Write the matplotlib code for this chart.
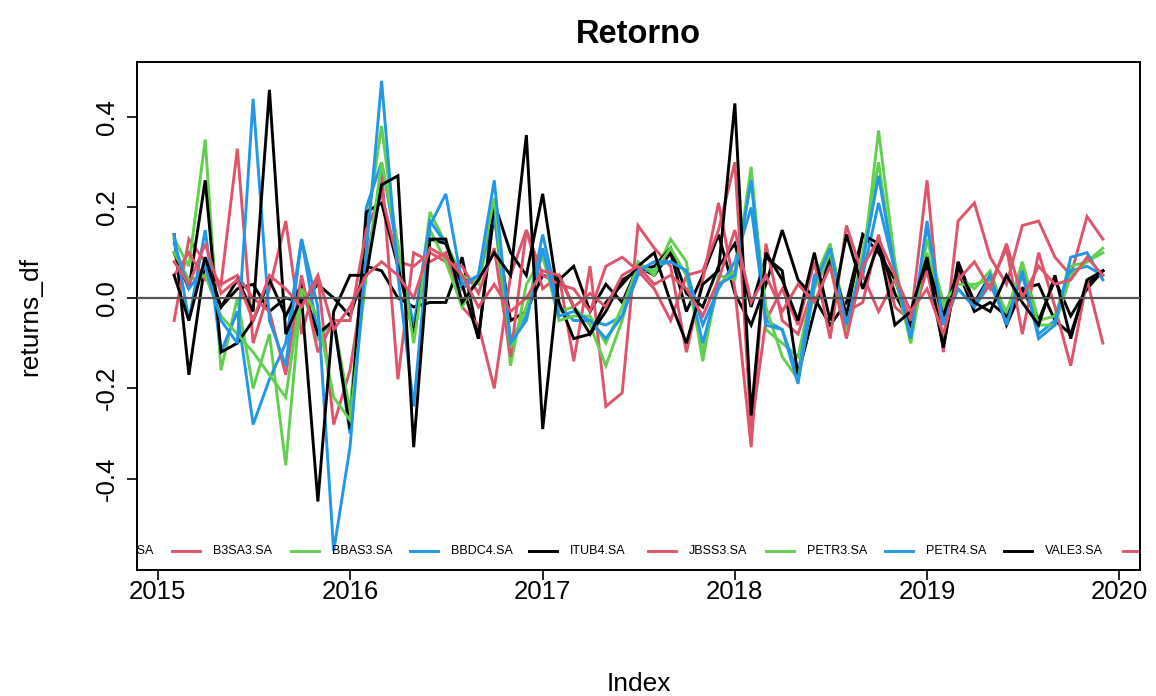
import numpy as np
import pandas as pd
import matplotlib
matplotlib.use("Agg")
import matplotlib.pyplot as plt
import matplotlib.dates as mdates

plt.rcParams['font.family'] = ['Liberation Sans', 'DejaVu Sans']

dates = pd.date_range("2015-02-01", periods=59, freq="MS")

tickers = ["ABEV3.SA", "B3SA3.SA", "BBAS3.SA", "BBDC4.SA", "ITUB4.SA",
           "JBSS3.SA", "PETR3.SA", "PETR4.SA", "VALE3.SA", "WEGE3.SA"]
colors = ["#000000", "#DF536B", "#61D04F", "#2297E6"]

abev3 = [0.14, -0.17, 0.08, -0.02, 0.02, 0.03, -0.03, 0.00, -0.01, 0.03,
         0.00, -0.04, 0.07, 0.06, 0.00, -0.02, -0.01, -0.01, 0.09, -0.09,
         0.19, -0.05, -0.03, 0.05, 0.04, 0.07, -0.03, 0.03, -0.01, 0.07,
         0.05, 0.10, -0.03, 0.05, 0.14, 0.01, -0.06, 0.03, 0.15, 0.04,
         0.00, -0.06, -0.01, 0.14, 0.10, 0.04, -0.06, 0.07, -0.11, 0.08,
         -0.01, 0.05, -0.06, 0.02, 0.03, -0.05, -0.08, 0.03, 0.06]
b3sa3 = [-0.05, 0.13, 0.08, 0.03, 0.33, -0.10, 0.02, 0.17, -0.08, 0.05,
         -0.28, -0.16, 0.07, 0.28, -0.18, 0.10, 0.08, 0.10, -0.02, -0.06,
         -0.20, 0.05, 0.15, 0.02, 0.05, -0.14, 0.07, -0.24, -0.21, 0.16,
         0.11, 0.07, -0.12, 0.04, 0.21, 0.02, -0.33, 0.12, -0.05, -0.08,
         0.03, 0.08, -0.03, -0.01, 0.14, -0.02, -0.05, 0.26, -0.12, 0.17,
         0.21, 0.09, 0.03, 0.16, 0.17, 0.09, 0.05, 0.18, 0.13]
bbas3 = [0.13, 0.07, 0.35, -0.16, 0.00, -0.20, -0.08, -0.37, 0.02, -0.09,
         -0.05, -0.25, 0.15, 0.38, 0.10, -0.09, 0.19, 0.12, 0.05, 0.03,
         0.19, -0.15, 0.03, 0.09, -0.03, -0.02, -0.06, -0.15, -0.05, 0.08,
         0.05, 0.13, 0.08, -0.14, 0.05, 0.04, 0.29, -0.07, -0.10, -0.13,
         0.04, 0.12, -0.05, 0.07, 0.37, 0.08, -0.10, 0.10, -0.02, 0.05,
         0.02, 0.06, -0.04, 0.08, -0.05, -0.04, 0.07, 0.08, 0.11]
bbdc4 = [0.14, -0.05, 0.15, -0.12, -0.03, -0.28, -0.18, -0.10, 0.13, -0.08,
         -0.05, -0.30, 0.20, 0.30, 0.10, -0.06, 0.17, 0.12, 0.02, 0.05,
         0.18, -0.09, -0.04, 0.14, -0.02, -0.05, -0.05, -0.06, -0.04, 0.05,
         0.07, 0.08, 0.06, -0.06, 0.02, 0.08, 0.20, -0.05, -0.07, -0.17,
         0.05, 0.07, -0.04, 0.05, 0.21, 0.06, -0.09, 0.16, -0.05, 0.02,
         -0.02, 0.03, -0.05, 0.05, -0.08, -0.05, 0.06, 0.07, 0.05]
itub4 = [0.10, 0.02, 0.26, -0.12, -0.10, -0.05, 0.04, -0.04, 0.03, -0.08,
         -0.05, -0.29, 0.19, 0.21, 0.07, -0.08, 0.13, 0.12, 0.03, -0.09,
         0.21, 0.10, 0.05, 0.23, -0.01, -0.09, -0.08, -0.03, 0.04, 0.06,
         0.07, 0.11, 0.01, -0.02, 0.07, 0.12, -0.02, 0.09, 0.06, -0.17,
         -0.03, 0.09, -0.04, 0.14, 0.12, 0.01, -0.06, 0.08, -0.04, 0.06,
         -0.03, -0.01, -0.04, 0.02, -0.05, 0.04, -0.04, 0.02, 0.06]
jbss3 = [0.05, 0.10, 0.04, 0.03, 0.05, 0.00, -0.03, -0.17, 0.05, -0.12,
         -0.05, -0.05, 0.15, 0.23, 0.08, 0.07, 0.10, 0.08, 0.07, 0.01,
         0.11, -0.13, 0.15, 0.05, 0.03, 0.02, -0.03, 0.07, 0.09, 0.06,
         0.02, -0.05, 0.05, 0.06, 0.15, 0.30, -0.29, -0.05, 0.02, -0.06,
         0.08, -0.09, 0.16, 0.05, -0.03, 0.04, -0.05, 0.06, -0.10, 0.06,
         -0.01, 0.03, 0.11, -0.08, 0.10, -0.02, -0.15, 0.04, -0.10]
petr3 = [0.10, 0.04, 0.05, -0.04, -0.08, -0.12, -0.17, -0.22, 0.02, -0.04,
         -0.22, -0.27, 0.05, 0.30, 0.12, -0.10, 0.15, 0.08, -0.02, 0.05,
         0.22, -0.11, -0.02, 0.10, -0.05, -0.04, -0.04, -0.10, -0.02, 0.07,
         0.06, 0.11, 0.05, -0.12, 0.03, 0.06, 0.26, -0.02, -0.13, -0.18,
         0.02, 0.10, -0.07, 0.10, 0.30, 0.05, -0.10, 0.13, -0.01, 0.03,
         0.03, 0.04, -0.03, 0.07, -0.06, -0.06, 0.05, 0.08, 0.10]
petr4 = [0.12, 0.02, 0.07, -0.05, -0.10, 0.44, -0.05, -0.15, 0.13, -0.02,
         -0.56, -0.33, 0.10, 0.48, 0.05, -0.24, 0.16, 0.23, 0.03, 0.05,
         0.26, -0.10, -0.05, 0.11, -0.04, -0.03, -0.05, -0.09, -0.04, 0.06,
         0.08, 0.08, 0.06, -0.10, 0.03, 0.05, 0.26, -0.06, -0.07, -0.19,
         0.03, 0.11, -0.06, 0.08, 0.27, 0.06, -0.09, 0.17, -0.06, 0.02,
         -0.02, 0.05, -0.06, 0.06, -0.09, -0.06, 0.09, 0.10, 0.04]
vale3 = [0.05, -0.05, 0.09, -0.02, 0.04, -0.03, 0.46, -0.08, 0.00, -0.45,
         -0.03, 0.05, 0.05, 0.25, 0.27, -0.33, 0.13, 0.13, -0.01, 0.04,
         0.10, 0.05, 0.36, -0.29, 0.05, -0.02, -0.08, -0.01, 0.03, 0.07,
         0.10, -0.01, -0.10, 0.03, 0.06, 0.43, -0.26, 0.10, 0.04, -0.05,
         0.10, -0.05, 0.14, 0.02, 0.12, -0.06, -0.03, 0.09, -0.11, 0.07,
         -0.01, -0.03, 0.05, -0.01, -0.06, 0.05, -0.09, 0.04, 0.06]
wege3 = [0.08, 0.03, 0.12, 0.01, 0.04, -0.05, 0.05, 0.02, -0.02, 0.05,
         -0.07, -0.02, 0.05, 0.08, 0.05, 0.00, 0.11, 0.09, 0.05, -0.02,
         0.03, -0.03, 0.00, 0.06, 0.05, -0.02, 0.01, -0.02, 0.05, 0.07,
         0.03, 0.05, 0.02, -0.04, 0.04, 0.15, -0.01, 0.05, -0.03, 0.03,
         -0.01, 0.07, -0.09, 0.07, 0.13, 0.05, -0.03, 0.02, -0.08, 0.04,
         0.08, 0.02, 0.12, 0.00, 0.07, 0.03, 0.04, 0.09, 0.05]

series = [abev3, b3sa3, bbas3, bbdc4, itub4, jbss3, petr3, petr4, vale3, wege3]
returns_df = pd.DataFrame(dict(zip(tickers, series)), index=dates)

fig = plt.figure(figsize=(11.56, 6.96), dpi=100)
ax = fig.add_axes([137/1156, 1-570/696, 1003/1156, 508/696])

for k, t in enumerate(tickers):
    ax.plot(returns_df.index, returns_df[t], color=colors[k % 4], lw=2.1,
            solid_joinstyle='miter')

ax.axhline(0, color="#555555", lw=1.6, zorder=5)

# R-style 4% axis expansion
d0, d1 = mdates.date2num(dates[0]), mdates.date2num(dates[-1])
span = d1 - d0
ax.set_xlim(d0 - 0.04*span, d1 + 0.04*span)
vmin, vmax = np.nanmin(returns_df.values), np.nanmax(returns_df.values)
vs = vmax - vmin
ax.set_ylim(vmin - 0.04*vs, vmax + 0.04*vs)

yt = [-0.4, -0.2, 0.0, 0.2, 0.4]
ax.set_yticks(yt)
ax.set_yticklabels([f"{v:.1f}" for v in yt], rotation=90, va='center')
years = pd.to_datetime([f"{y}-01-01" for y in range(2015, 2021)])
ax.set_xticks(mdates.date2num(years))
ax.set_xticklabels([str(y) for y in range(2015, 2021)])
ax.tick_params(axis='both', labelsize=18.5, length=7, width=1.2, direction='out')
ax.tick_params(axis='x', pad=0)
ax.tick_params(axis='y', pad=6)
for s in ax.spines.values():
    s.set_linewidth(1.4)

ax.set_title("Retorno", fontsize=23.5, fontweight='bold', pad=14)
ax.set_xlabel("Index", fontsize=19, labelpad=49)
ax.set_ylabel("returns_df", fontsize=19, labelpad=38)

# horizontal legend at the bottom, clipped by the plot region
W = 1003.0
ly = (570 - 551) / 508.0
for k, t in enumerate(tickers):
    x0 = (-84 + 118.9*k) / W
    ax.plot([x0, x0 + 28/W], [ly, ly], transform=ax.transAxes,
            color=colors[k % 4], lw=2.1, clip_on=True)
    tx = x0 + 41/W
    if tx < 1.0:
        ax.text(tx, ly, t, transform=ax.transAxes, fontsize=9,
                va='center', ha='left', clip_on=True)

fig.savefig("out.png", dpi=100)
